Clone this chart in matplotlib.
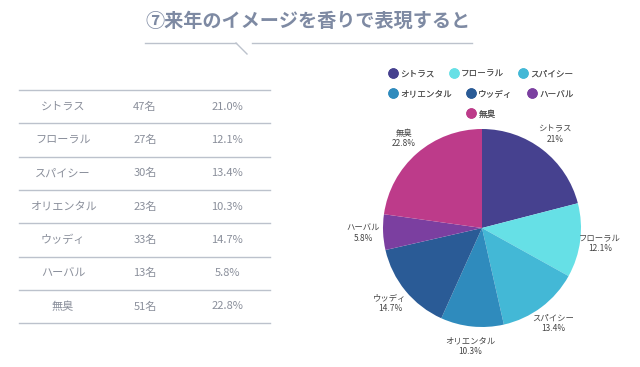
import matplotlib

matplotlib.use("Agg")
import matplotlib.pyplot as plt
from matplotlib.lines import Line2D

plt.rcParams["font.family"] = ["Noto Sans CJK JP", "DejaVu Sans"]

TITLE = "⑦来年のイメージを香りで表現すると"
categories = ["シトラス", "フローラル", "スパイシー", "オリエンタル", "ウッディ", "ハーバル", "無臭"]
counts = [47, 27, 30, 23, 33, 13, 51]
percents = [21.0, 12.1, 13.4, 10.3, 14.7, 5.8, 22.8]
pie_labels = ["21%", "12.1%", "13.4%", "10.3%", "14.7%", "5.8%", "22.8%"]
colors = ["#46418f", "#66e0e6", "#43b8d6", "#2f8bbd", "#2a5b96", "#7b3fa0", "#bd3b8a"]

W, H = 640, 367
fig = plt.figure(figsize=(W / 100, H / 100), dpi=100)
fig.patch.set_facecolor("white")

# overlay in pixel coords for title and table
ov = fig.add_axes([0, 0, 1, 1])
ov.set_xlim(0, W)
ov.set_ylim(H, 0)
ov.axis("off")

C_TITLE = "#7e8aa3"
C_LINE = "#bcc2cc"
C_TXT = "#8a8f9b"

ov.text(308, 21, TITLE, ha="center", va="center", fontsize=13.8,
        fontweight="bold", color=C_TITLE)
ov.plot([145, 236], [43, 43], color=C_LINE, lw=1)
ov.plot([236, 247], [43, 54], color=C_LINE, lw=1)
ov.plot([252, 472], [43, 43], color=C_LINE, lw=1)

# table
y0, dy = 90, 33.3
for i in range(len(categories) + 1):
    y = y0 + i * dy
    ov.plot([19, 270], [y, y], color=C_LINE, lw=1)
for i, (c, n, p) in enumerate(zip(categories, counts, percents)):
    yc = y0 + (i + 0.5) * dy
    ov.text(63, yc, c, ha="center", va="center", fontsize=8, color=C_TXT)
    ov.text(145, yc, f"{n}名", ha="center", va="center", fontsize=8, color=C_TXT)
    ov.text(227, yc, f"{p:.1f}%", ha="center", va="center", fontsize=8, color=C_TXT)

# pie
r_px = 99
cx, cy = 482, H - 228
lim = 1.3
side = 2 * lim * r_px
ax = fig.add_axes([(cx - side / 2) / W, (cy - side / 2) / H, side / W, side / H])
wedges, texts = ax.pie(
    percents,
    colors=colors,
    startangle=90,
    counterclock=False,
    labels=[f"{c}\n{l}" for c, l in zip(categories, pie_labels)],
    labeldistance=1.2,
    textprops=dict(fontsize=6.0, color="#444444", linespacing=1.15),
)
for t in texts:
    t.set_ha("center")
    t.set_va("center")
ax.set_xlim(-lim, lim)
ax.set_ylim(-lim, lim)
ax.set_aspect("equal")

# legend: chart.js style, each row laid out and centred on its own
handles = [Line2D([], [], marker="o", ls="", markersize=6.5,
                  markerfacecolor=col, markeredgecolor=col) for col in colors]
rows = [(0, 3, 74), (3, 6, 94), (6, 7, 114)]
for a, b, ypx in rows:
    leg = fig.legend(handles[a:b], categories[a:b], ncol=b - a, loc="center",
                     bbox_to_anchor=(481 / W, 1 - ypx / H), frameon=False,
                     fontsize=6.2, handletextpad=0.35, columnspacing=1.7,
                     handlelength=1.0, borderpad=0, labelcolor="#555555")
    fig.add_artist(leg)

fig.savefig("out.png", dpi=100, facecolor="white")
